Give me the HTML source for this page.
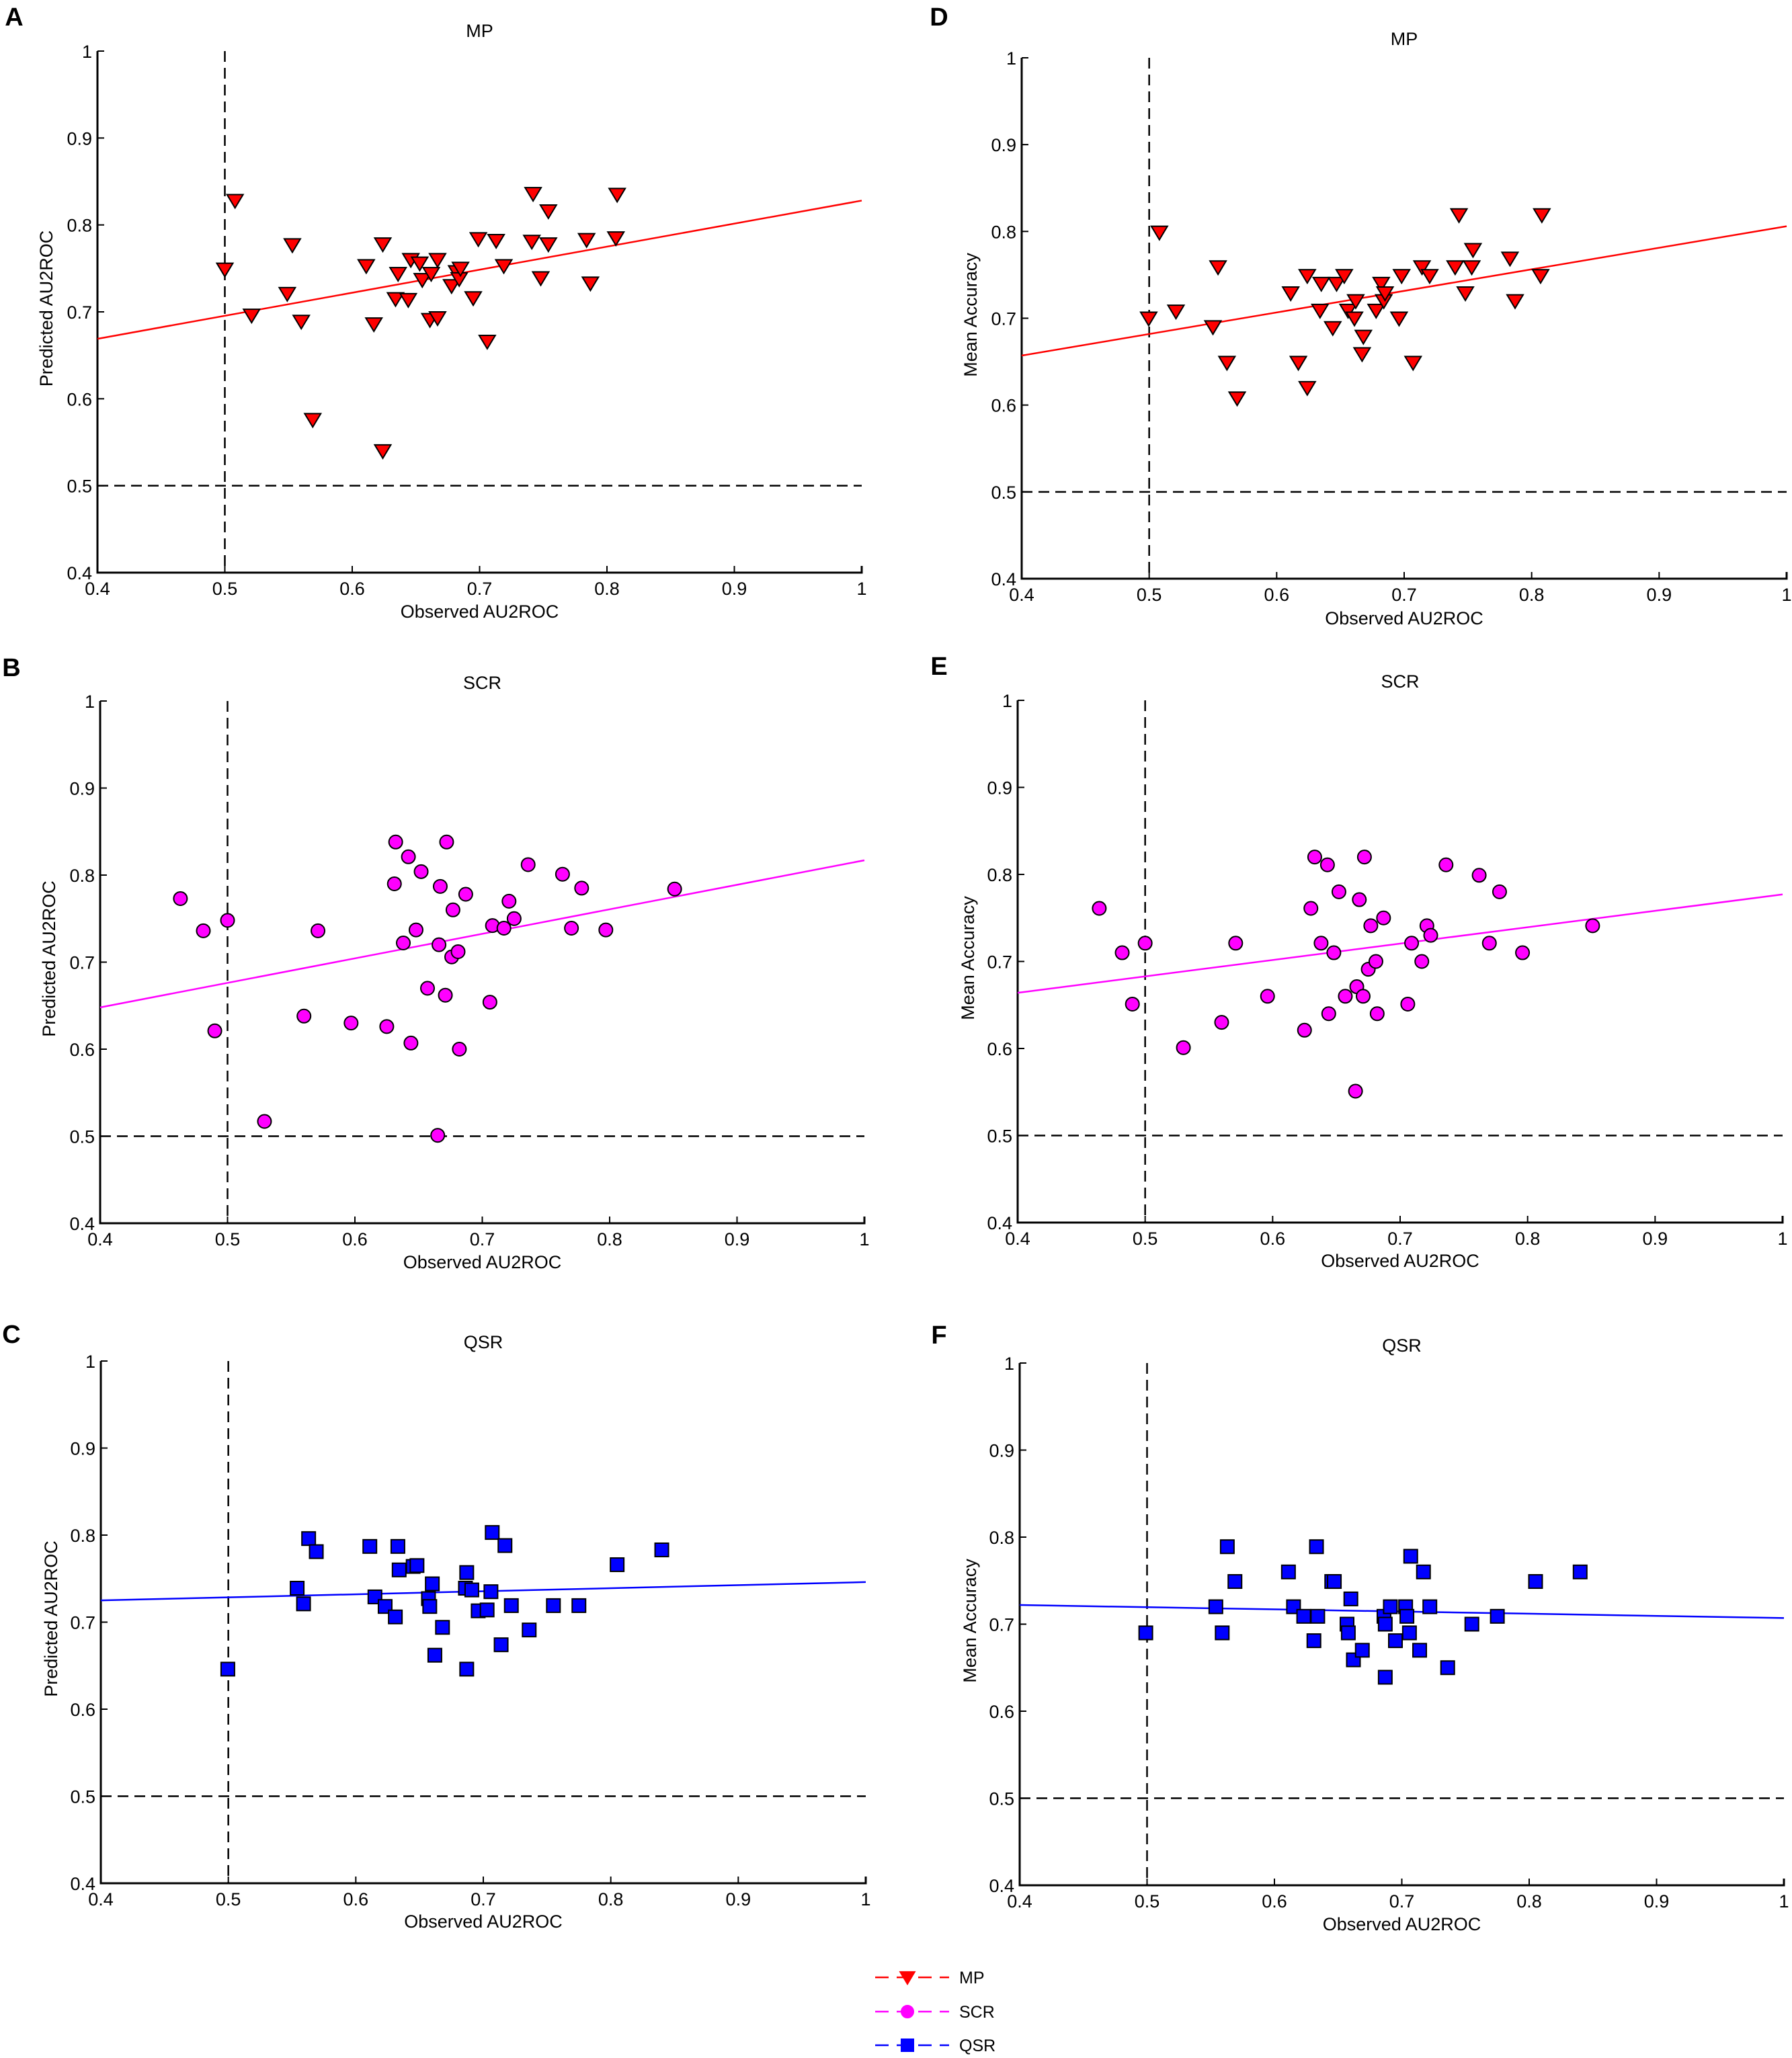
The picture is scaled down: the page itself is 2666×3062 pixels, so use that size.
<!DOCTYPE html>
<html>
<head>
<meta charset="utf-8">
<style>
  html, body { margin: 0; padding: 0; background: #fff; }
  svg { display: block; }
  text { font-family: "Liberation Sans", Arial, sans-serif; fill: #000; }
</style>
</head>
<body>
<svg id="fig" xmlns="http://www.w3.org/2000/svg" width="2666" height="3062" viewBox="0 0 2666 3062"></svg>
<script>
// ---- data ----
const tickValues = [0.4, 0.5, 0.6, 0.7, 0.8, 0.9, 1];
const tickLabels = ["0.4", "0.5", "0.6", "0.7", "0.8", "0.9", "1"];

const mpX = [0.50,0.508,0.553,0.624,0.549,0.521,0.560,0.569,0.624,0.611,0.617,0.636,0.634,0.644,0.646,0.653,0.655,0.662,0.667,0.661,0.667,0.678,0.682,0.684,0.685,0.695,0.699,0.706,0.713,0.719,0.741,0.742,0.748,0.754,0.754,0.784,0.787,0.807,0.808];
const mpPred = [0.749,0.828,0.777,0.778,0.721,0.696,0.689,0.576,0.540,0.753,0.686,0.744,0.715,0.714,0.760,0.756,0.737,0.744,0.760,0.691,0.693,0.730,0.746,0.738,0.750,0.716,0.784,0.666,0.782,0.753,0.781,0.836,0.739,0.778,0.816,0.783,0.733,0.785,0.835];
const mpAccX = [0.4996,0.508,0.521,0.550,0.554,0.561,0.569,0.611,0.617,0.624,0.624,0.634,0.635,0.644,0.647,0.653,0.656,0.662,0.661,0.668,0.667,0.678,0.682,0.684,0.685,0.696,0.698,0.707,0.714,0.720,0.740,0.743,0.748,0.753,0.754,0.783,0.787,0.807,0.808];
const mpAcc = [0.700,0.799,0.708,0.690,0.759,0.649,0.608,0.729,0.649,0.749,0.620,0.709,0.740,0.689,0.740,0.749,0.709,0.720,0.700,0.679,0.659,0.709,0.740,0.720,0.729,0.700,0.749,0.649,0.759,0.749,0.759,0.819,0.729,0.759,0.779,0.769,0.720,0.749,0.819];
const mpFitPred = [0.669, 0.828];
const mpFitAcc = [0.657, 0.806];

const scrX = [0.463,0.481,0.490,0.500,0.529,0.560,0.571,0.597,0.625,0.631,0.632,0.638,0.642,0.644,0.648,0.652,0.657,0.666,0.665,0.667,0.671,0.672,0.676,0.677,0.681,0.682,0.687,0.706,0.708,0.717,0.721,0.725,0.736,0.763,0.770,0.778,0.797,0.851];
const scrPred = [0.773,0.736,0.621,0.748,0.517,0.638,0.736,0.630,0.626,0.790,0.838,0.722,0.821,0.607,0.737,0.804,0.670,0.720,0.501,0.787,0.662,0.838,0.706,0.760,0.712,0.600,0.778,0.654,0.742,0.739,0.770,0.750,0.812,0.801,0.739,0.785,0.737,0.784];
const scrAccX = [0.464,0.482,0.490,0.500,0.530,0.560,0.571,0.596,0.625,0.630,0.633,0.638,0.643,0.644,0.648,0.652,0.657,0.666,0.665,0.668,0.671,0.672,0.675,0.677,0.681,0.682,0.687,0.706,0.709,0.717,0.721,0.724,0.736,0.762,0.770,0.778,0.796,0.851];
const scrAcc = [0.761,0.710,0.651,0.721,0.601,0.630,0.721,0.660,0.621,0.761,0.820,0.721,0.811,0.640,0.710,0.780,0.660,0.671,0.551,0.771,0.660,0.820,0.691,0.741,0.700,0.640,0.750,0.651,0.721,0.700,0.741,0.730,0.811,0.799,0.721,0.780,0.710,0.741];
const scrFitPred = [0.648, 0.817];
const scrFitAcc = [0.664, 0.777];

const qsrX = [0.4996,0.554,0.559,0.563,0.569,0.611,0.615,0.623,0.631,0.633,0.634,0.645,0.648,0.657,0.658,0.660,0.662,0.668,0.686,0.687,0.687,0.691,0.696,0.703,0.706,0.707,0.714,0.717,0.722,0.736,0.755,0.775,0.805,0.840];
const qsrPred = [0.646,0.739,0.721,0.796,0.781,0.787,0.729,0.718,0.706,0.787,0.760,0.764,0.765,0.727,0.718,0.744,0.662,0.694,0.739,0.757,0.646,0.737,0.713,0.714,0.735,0.803,0.674,0.788,0.719,0.691,0.719,0.719,0.766,0.783];
const qsrAccX = [0.499,0.554,0.559,0.563,0.569,0.611,0.615,0.623,0.631,0.633,0.634,0.645,0.647,0.657,0.658,0.660,0.662,0.669,0.686,0.687,0.687,0.691,0.695,0.703,0.704,0.706,0.707,0.714,0.717,0.722,0.736,0.755,0.775,0.805,0.840];
const qsrAcc = [0.690,0.720,0.690,0.789,0.749,0.760,0.720,0.709,0.681,0.789,0.709,0.749,0.749,0.700,0.690,0.729,0.659,0.670,0.709,0.700,0.639,0.720,0.681,0.720,0.709,0.690,0.778,0.670,0.760,0.720,0.650,0.700,0.709,0.749,0.760];
const qsrFitPred = [0.725, 0.746];
const qsrFitAcc = [0.722, 0.707];

// ---- layout ----
const NS = "http://www.w3.org/2000/svg";
const svg = document.getElementById("fig");
const COLORS = { MP: "#ff0000", SCR: "#ff00ff", QSR: "#0000ff" };

const panels = [
  { id: "a", letter: "A", lx: 21, ly: 24, title: "MP", ylab: "Predicted AU2ROC", x0: 145, x1: 1282, yTop: 76, yBot: 852, tY: 45, xlY: 909, ylX: 68, kind: "MP", xs: mpX, ys: mpPred, fit: mpFitPred },
  { id: "d", letter: "D", lx: 1397, ly: 24, title: "MP", ylab: "Mean Accuracy", x0: 1520, x1: 2658, yTop: 86, yBot: 861, tY: 57, xlY: 919, ylX: 1443, kind: "MP", xs: mpAccX, ys: mpAcc, fit: mpFitAcc },
  { id: "b", letter: "B", lx: 17, ly: 992, title: "SCR", ylab: "Predicted AU2ROC", x0: 149, x1: 1286, yTop: 1043, yBot: 1820, tY: 1015, xlY: 1877, ylX: 72, kind: "SCR", xs: scrX, ys: scrPred, fit: scrFitPred },
  { id: "e", letter: "E", lx: 1397, ly: 990, title: "SCR", ylab: "Mean Accuracy", x0: 1514, x1: 2652, yTop: 1042, yBot: 1819, tY: 1013, xlY: 1875, ylX: 1439, kind: "SCR", xs: scrAccX, ys: scrAcc, fit: scrFitAcc },
  { id: "c", letter: "C", lx: 17, ly: 1984, title: "QSR", ylab: "Predicted AU2ROC", x0: 150, x1: 1288, yTop: 2025, yBot: 2802, tY: 1996, xlY: 2858, ylX: 75, kind: "QSR", xs: qsrX, ys: qsrPred, fit: qsrFitPred },
  { id: "f", letter: "F", lx: 1397, ly: 1985, title: "QSR", ylab: "Mean Accuracy", x0: 1517, x1: 2654, yTop: 2028, yBot: 2805, tY: 2001, xlY: 2862, ylX: 1442, kind: "QSR", xs: qsrAccX, ys: qsrAcc, fit: qsrFitAcc }
];

function el(tag, attrs, parent) {
  const e = document.createElementNS(NS, tag);
  for (const k in attrs) e.setAttribute(k, attrs[k]);
  (parent || svg).appendChild(e);
  return e;
}

function marker(kind, cx, cy, parent, size) {
  const s = size || 1;
  let m;
  if (kind === "MP") {
    m = el("polygon", { points: `${cx-12*s},${cy-9*s} ${cx+12*s},${cy-9*s} ${cx},${cy+11*s}`, fill: COLORS.MP, stroke: "#000", "stroke-width": 2 }, parent);
  } else if (kind === "SCR") {
    m = el("ellipse", { cx: cx, cy: cy, rx: 10*s, ry: 10*s, fill: COLORS.SCR, stroke: "#000", "stroke-width": 2 }, parent);
  } else {
    m = el("rect", { x: cx-10*s, y: cy-10*s, width: 20*s, height: 20*s, fill: COLORS.QSR, stroke: "#000", "stroke-width": 2 }, parent);
  }
  return m;
}

panels.forEach(p => {
  const g = el("g", {});
  
  
  const sx = v => p.x0 + (v - 0.4) / 0.6 * (p.x1 - p.x0);
  const sy = v => p.yBot - (v - 0.4) / 0.6 * (p.yBot - p.yTop);

  const letter = el("text", { x: p.lx, y: p.ly + 14, "font-size": 38, "font-weight": "bold", "text-anchor": "middle" }, g);
  letter.textContent = p.letter;
  
  

  const title = el("text", { x: (p.x0 + p.x1) / 2, y: p.tY + 10, "font-size": 27, "text-anchor": "middle" }, g);
  title.textContent = p.title;
  
  

  // reference dashed lines
  const vd = el("line", { x1: sx(0.5), x2: sx(0.5), y1: sy(1), y2: sy(0.4), stroke: "#000", "stroke-width": 2.5, "stroke-dasharray": "16 9" }, g);
  
  
  const hd = el("line", { x1: sx(0.4), x2: sx(1), y1: sy(0.5), y2: sy(0.5), stroke: "#000", "stroke-width": 2.5, "stroke-dasharray": "16 9" }, g);
  
  

  // axes
  const ax = el("path", { d: `M${p.x0},${p.yTop} L${p.x0},${p.yBot} L${p.x1},${p.yBot} L${p.x1},${p.yBot-10}`, fill: "none", stroke: "#000", "stroke-width": 3 }, g);
  
  

  tickValues.forEach((v, i) => {
    const xt = el("line", { x1: sx(v), x2: sx(v), y1: p.yBot, y2: p.yBot - 10, stroke: "#000", "stroke-width": 2 }, g);
    
    
    const xl = el("text", { x: sx(v), y: p.yBot + 33, "font-size": 27, "text-anchor": "middle" }, g);
    xl.textContent = tickLabels[i];
    
    
    const yt = el("line", { x1: p.x0, x2: p.x0 + 10, y1: sy(v), y2: sy(v), stroke: "#000", "stroke-width": 2 }, g);
    
    
    const yl = el("text", { x: p.x0 - 8, y: sy(v) + 10, "font-size": 27, "text-anchor": "end" }, g);
    yl.textContent = tickLabels[i];
    
    
  });

  const xlab = el("text", { x: (p.x0 + p.x1) / 2, y: p.xlY + 10, "font-size": 27, "text-anchor": "middle" }, g);
  xlab.textContent = "Observed AU2ROC";
  
  

  const yc = (p.yTop + p.yBot) / 2 - 5;
  const ylab = el("text", { x: p.ylX + 10, y: yc, "font-size": 27, "text-anchor": "middle", transform: `rotate(-90 ${p.ylX + 10} ${yc})` }, g);
  ylab.textContent = p.ylab;
  
  

  // fit line
  const fl = el("line", { x1: sx(0.4), y1: sy(p.fit[0]), x2: sx(1), y2: sy(p.fit[1]), stroke: COLORS[p.kind], "stroke-width": 2.5 }, g);
  
  

  // points
  p.xs.forEach((xv, i) => {
    const m = marker(p.kind, sx(xv), sy(p.ys[i]), g);
    
    
  });
});

// legend
const legendItems = ["MP", "SCR", "QSR"];
const legendRowsY = [2942, 2993, 3043];
const lg = el("g", {});


legendItems.forEach((k, i) => {
  const y = legendRowsY[i];
  const ln = el("line", { x1: 1302, x2: 1412, y1: y, y2: y, stroke: COLORS[k], "stroke-width": 2.5, "stroke-dasharray": "20 12" }, lg);
  
  
  const m = marker(k, 1350, y, lg, 0.9);
  m.setAttribute('stroke', COLORS[k]);
  
  
  const t = el("text", { x: 1427, y: y + 9, "font-size": 25 }, lg);
  t.textContent = k;
  
  
});
</script>
</body>
</html>
